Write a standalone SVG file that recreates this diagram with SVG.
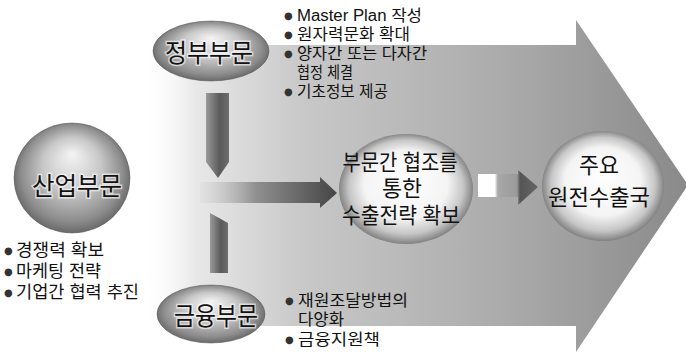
<svg xmlns="http://www.w3.org/2000/svg" width="686" height="355" viewBox="0 0 686 355">
<defs>
<linearGradient id="bigArrow" gradientUnits="userSpaceOnUse" x1="140" y1="0" x2="686" y2="0">
<stop offset="0" stop-color="#ffffff" stop-opacity="0"/>
<stop offset="0.1" stop-color="#e8e8e8"/>
<stop offset="0.3" stop-color="#c8c8c8"/>
<stop offset="0.7" stop-color="#a8a8a8"/>
<stop offset="1" stop-color="#8a8a8a"/>
</linearGradient>
<radialGradient id="sideSphere" cx="50%" cy="50%" r="55%" fx="50%" fy="28%">
<stop offset="0" stop-color="#f4f4f4"/>
<stop offset="0.45" stop-color="#c8c8c8"/>
<stop offset="0.8" stop-color="#8c8c8c"/>
<stop offset="1" stop-color="#5a5a5a"/>
</radialGradient>
<radialGradient id="mainSphere" cx="50%" cy="50%" r="52%" fx="50%" fy="40%">
<stop offset="0" stop-color="#ffffff"/>
<stop offset="0.6" stop-color="#f4f4f4"/>
<stop offset="0.82" stop-color="#c6c6c6"/>
<stop offset="0.95" stop-color="#8a8a8a"/>
<stop offset="1" stop-color="#6a6a6a"/>
</radialGradient>
<linearGradient id="downBar" x1="0" y1="0" x2="1" y2="0">
<stop offset="0" stop-color="#9a9a9a"/>
<stop offset="0.6" stop-color="#5a5a5a"/>
<stop offset="1" stop-color="#6e6e6e"/>
</linearGradient>
<linearGradient id="hBar" gradientUnits="userSpaceOnUse" x1="200" y1="0" x2="338" y2="0">
<stop offset="0" stop-color="#d0d0d0" stop-opacity="0.2"/>
<stop offset="0.4" stop-color="#909090"/>
<stop offset="1" stop-color="#444444"/>
</linearGradient>
<linearGradient id="smallArrow" gradientUnits="userSpaceOnUse" x1="478" y1="0" x2="538" y2="0">
<stop offset="0" stop-color="#ffffff"/>
<stop offset="0.28" stop-color="#ffffff"/>
<stop offset="0.33" stop-color="#a8a8a8"/>
<stop offset="0.65" stop-color="#9a9a9a"/>
<stop offset="0.7" stop-color="#555555"/>
<stop offset="1" stop-color="#666666"/>
</linearGradient>
</defs>
<style>
text { font-family: "Liberation Sans", "Noto Sans CJK KR", sans-serif; fill: #111; }
.node { font-size: 25px; text-anchor: middle; stroke: #ffffff; stroke-width: 3px; stroke-opacity: 0.6; paint-order: stroke; }
.main { font-size: 22px; text-anchor: middle; }
.list { font-size: 16px; }
.list2 { font-size: 17px; }
.list3 { font-size: 16px; }
.bul { font-family: "DejaVu Sans", sans-serif; font-size: 10px; fill: #333; }
.rim { stroke: #555; stroke-width: 1; stroke-opacity: 0.5; }
</style>

<rect width="686" height="355" fill="#ffffff"/>

<g id="background-arrow">
<polygon points="140,45 576,45 576,20 688,185 576,352 576,326 140,326" fill="url(#bigArrow)"/>
</g>

<g id="connectors">
<polygon points="206,93 229,93 229,162 218,178 206,162" fill="url(#downBar)"/>
<polygon points="210,213 228,223 228,273 210,273" fill="url(#downBar)"/>
<polygon points="200,182 320,182 320,177 337,193 320,208 320,203 200,203" fill="url(#hBar)"/>
<polygon points="478,174 518,174 518,170 538,187 518,205 518,197 478,197" fill="url(#smallArrow)"/>
</g>

<g id="node-government">
<ellipse cx="211" cy="51" rx="58" ry="30" fill="url(#sideSphere)" class="rim"/>
<text class="node" x="209" y="62" textLength="88" lengthAdjust="spacingAndGlyphs">정부부문</text>
</g>

<g id="node-industry">
<ellipse cx="72" cy="178" rx="58" ry="55" fill="url(#sideSphere)" class="rim"/>
<text class="node" x="77" y="195" textLength="90" lengthAdjust="spacingAndGlyphs">산업부문</text>
</g>

<g id="node-finance">
<ellipse cx="211" cy="314" rx="54" ry="29" fill="url(#sideSphere)" class="rim"/>
<text class="node" x="216" y="325" textLength="84" lengthAdjust="spacingAndGlyphs">금융부문</text>
</g>

<g id="node-strategy">
<ellipse cx="406" cy="189" rx="67" ry="55" fill="url(#mainSphere)"/>
<text class="main" x="400" y="170" textLength="115" lengthAdjust="spacingAndGlyphs">부문간 협조를</text>
<text class="main" x="402" y="196" textLength="40" lengthAdjust="spacingAndGlyphs">통한</text>
<text class="main" x="401" y="223" textLength="118" lengthAdjust="spacingAndGlyphs">수출전략 확보</text>
</g>

<g id="node-exporters">
<ellipse cx="603" cy="186" rx="61" ry="55" fill="url(#mainSphere)"/>
<text class="main" x="599" y="173" textLength="40" lengthAdjust="spacingAndGlyphs">주요</text>
<text class="main" x="599" y="205" textLength="102" lengthAdjust="spacingAndGlyphs">원전수출국</text>
</g>

<g id="list-government">
<text class="list" x="284" y="21"><tspan class="bul" dy="-2">●</tspan><tspan x="297" dy="2" textLength="125" lengthAdjust="spacingAndGlyphs">Master Plan 작성</tspan></text>
<text class="list" x="284" y="40"><tspan class="bul" dy="-2">●</tspan><tspan x="297" dy="2" textLength="113" lengthAdjust="spacingAndGlyphs">원자력문화 확대</tspan></text>
<text class="list" x="284" y="59"><tspan class="bul" dy="-2">●</tspan><tspan x="297" dy="2" textLength="130" lengthAdjust="spacingAndGlyphs">양자간 또는 다자간</tspan></text>
<text class="list" x="297" y="78" textLength="56" lengthAdjust="spacingAndGlyphs">협정 체결</text>
<text class="list" x="284" y="97"><tspan class="bul" dy="-2">●</tspan><tspan x="297" dy="2" textLength="91" lengthAdjust="spacingAndGlyphs">기초정보 제공</tspan></text>
</g>

<g id="list-industry">
<text class="list2" x="4" y="256"><tspan class="bul" dy="-2">●</tspan><tspan x="16" dy="2" textLength="88" lengthAdjust="spacingAndGlyphs">경쟁력 확보</tspan></text>
<text class="list2" x="4" y="277"><tspan class="bul" dy="-2">●</tspan><tspan x="16" dy="2" textLength="85" lengthAdjust="spacingAndGlyphs">마케팅 전략</tspan></text>
<text class="list2" x="4" y="298"><tspan class="bul" dy="-2">●</tspan><tspan x="16" dy="2" textLength="123" lengthAdjust="spacingAndGlyphs">기업간 협력 추진</tspan></text>
</g>

<g id="list-finance">
<text class="list3" x="285" y="306"><tspan class="bul" dy="-2">●</tspan><tspan x="298" dy="2" textLength="110" lengthAdjust="spacingAndGlyphs">재원조달방법의</tspan></text>
<text class="list3" x="298" y="325" textLength="46" lengthAdjust="spacingAndGlyphs">다양화</text>
<text class="list3" x="285" y="345"><tspan class="bul" dy="-2">●</tspan><tspan x="298" dy="2" textLength="82" lengthAdjust="spacingAndGlyphs">금융지원책</tspan></text>
</g>
</svg>
